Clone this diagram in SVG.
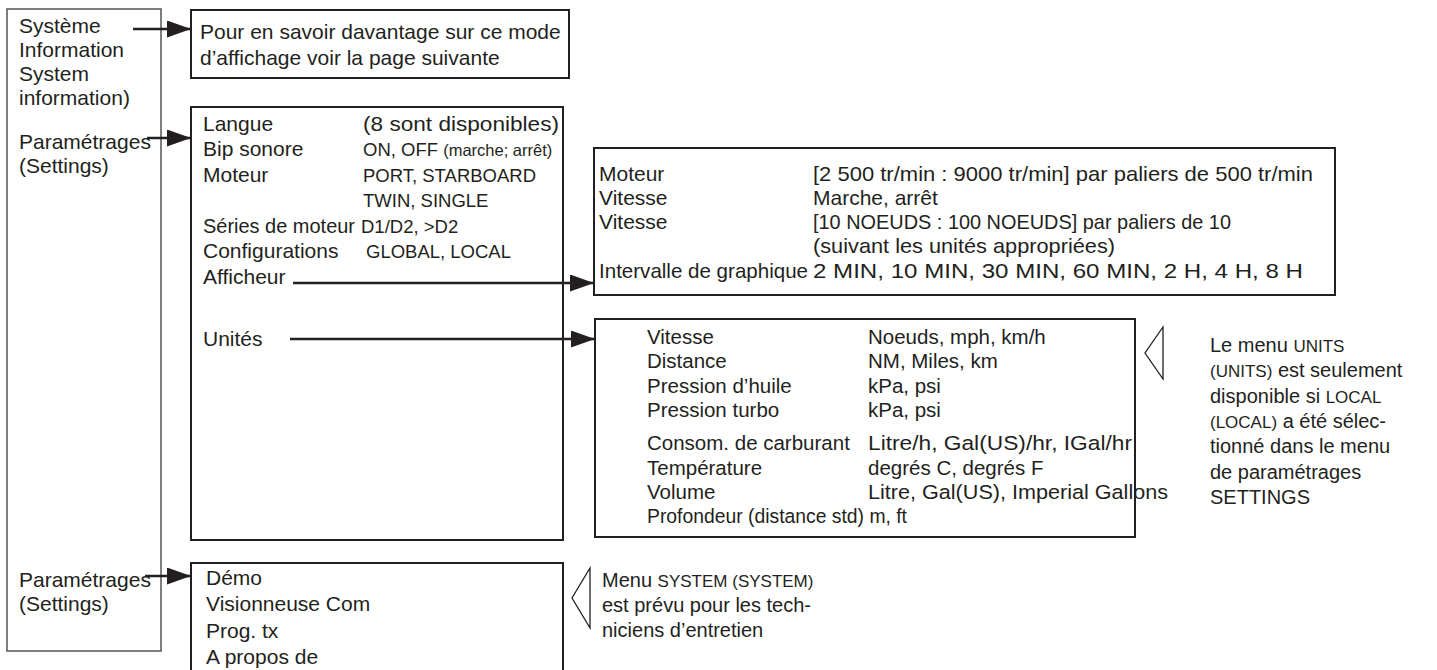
<svg xmlns="http://www.w3.org/2000/svg" width="1437" height="670" viewBox="0 0 1437 670">
<style>
text{font-family:"Liberation Sans",Arial,sans-serif;font-size:21px;fill:#231f20}
.box{fill:none;stroke:#231f20;stroke-width:2}
.lbox{fill:none;stroke:#555;stroke-width:1.5}
.sm{font-size:18.5px}
.xs{font-size:16.5px}
.u{font-size:20.5px}
.n{font-size:20px}
.c{font-size:17px}
.con{stroke:#231f20;stroke-width:2.5;fill:none}
.tri{fill:none;stroke:#231f20;stroke-width:1.3}
</style>
<defs>
<marker id="ah" viewBox="0 0 24 17" refX="24" refY="8.5" markerWidth="24" markerHeight="17" markerUnits="userSpaceOnUse" orient="auto"><path d="M0,0 L24,8.5 L0,17 z" fill="#231f20"/></marker>
</defs>
<rect width="1437" height="670" fill="#fff"/>
<g id="menu">
<rect class="lbox" x="7" y="9" width="154" height="642"/>
<text x="19" y="33">Système</text>
<text x="19" y="57">Information</text>
<text x="19" y="81">System</text>
<text x="19" y="105">information)</text>
<text x="19" y="149">Paramétrages</text>
<text x="19" y="173">(Settings)</text>
<text x="19" y="587">Paramétrages</text>
<text x="19" y="611">(Settings)</text>
</g>
<g id="info">
<rect class="box" x="191" y="10" width="378" height="68"/>
<text x="200" y="39">Pour en savoir davantage sur ce mode</text>
<text x="200" y="65">d’affichage voir la page suivante</text>
</g>
<g id="settings">
<rect class="box" x="191" y="107" width="372" height="433"/>
<text x="203" y="131">Langue</text><text x="363" y="131" textLength="196" lengthAdjust="spacingAndGlyphs">(8 sont disponibles)</text>
<text x="203" y="156">Bip sonore</text><text x="363" y="156" class="sm">ON, OFF <tspan class="xs">(marche; arrêt)</tspan></text>
<text x="203" y="182">Moteur</text><text x="363" y="182" class="sm">PORT, STARBOARD</text>
<text x="363" y="207" class="sm">TWIN, SINGLE</text>
<text x="203" y="233" textLength="152" lengthAdjust="spacingAndGlyphs">Séries de moteur</text><text x="361" y="233" class="sm">D1/D2, &gt;D2</text>
<text x="203" y="258">Configurations</text><text x="366" y="258" class="sm">GLOBAL, LOCAL</text>
<text x="203" y="284">Afficheur</text>
<text x="203" y="346">Unités</text>
</g>
<g id="display">
<rect class="box" x="594" y="148" width="741" height="147"/>
<text x="599" y="181">Moteur</text><text x="813" y="181" textLength="500" lengthAdjust="spacingAndGlyphs">[2 500 tr/min : 9000 tr/min] par paliers de 500 tr/min</text>
<text x="599" y="205">Vitesse</text><text x="813" y="205">Marche, arrêt</text>
<text x="599" y="229">Vitesse</text><text x="813" y="229" textLength="418" lengthAdjust="spacingAndGlyphs">[10 NOEUDS : 100 NOEUDS] par paliers de 10</text>
<text x="813" y="253" textLength="302" lengthAdjust="spacingAndGlyphs">(suivant les unités appropriées)</text>
<text x="599" y="278" textLength="209" lengthAdjust="spacingAndGlyphs">Intervalle de graphique</text><text x="813" y="278" textLength="490" lengthAdjust="spacingAndGlyphs">2 MIN, 10 MIN, 30 MIN, 60 MIN, 2 H, 4 H, 8 H</text>
</g>
<g id="units">
<rect class="box" x="595" y="319" width="540" height="218"/>
<text class="u" x="647" y="344">Vitesse</text><text class="u" x="868" y="344">Noeuds, mph, km/h</text>
<text class="u" x="647" y="368">Distance</text><text class="u" x="868" y="368">NM, Miles, km</text>
<text class="u" x="647" y="393">Pression d’huile</text><text class="u" x="868" y="393">kPa, psi</text>
<text class="u" x="647" y="417">Pression turbo</text><text class="u" x="868" y="417">kPa, psi</text>
<text class="u" x="647" y="450">Consom. de carburant</text><text class="u" x="868" y="450" textLength="264" lengthAdjust="spacingAndGlyphs">Litre/h, Gal(US)/hr, IGal/hr</text>
<text class="u" x="647" y="475">Température</text><text class="u" x="868" y="475">degrés C, degrés F</text>
<text class="u" x="647" y="499">Volume</text><text class="u" x="868" y="499" textLength="300" lengthAdjust="spacingAndGlyphs">Litre, Gal(US), Imperial Gallons</text>
<text class="u" x="647" y="523" textLength="260" lengthAdjust="spacingAndGlyphs">Profondeur (distance std) m, ft</text>
</g>
<g id="units-note">
<polygon class="tri" points="1163,327 1145,353 1163,379"/>
<text class="n" x="1210" y="352">Le menu <tspan class="c">UNITS</tspan></text>
<text class="n" x="1210" y="377"><tspan class="c">(UNITS)</tspan> est seulement</text>
<text class="n" x="1210" y="403">disponible si <tspan class="c">LOCAL</tspan></text>
<text class="n" x="1210" y="428"><tspan class="c">(LOCAL)</tspan> a été sélec-</text>
<text class="n" x="1210" y="453">tionné dans le menu</text>
<text class="n" x="1210" y="479">de paramétrages</text>
<text class="n" x="1210" y="504">SETTINGS</text>
</g>
<g id="system">
<rect class="box" x="191" y="563" width="372" height="120"/>
<text x="206" y="585">Démo</text>
<text x="206" y="611">Visionneuse Com</text>
<text x="206" y="638">Prog. tx</text>
<text x="206" y="664">A propos de</text>
</g>
<g id="system-note">
<polygon class="tri" points="590,568 572,598 590,628"/>
<text class="n" x="602" y="587">Menu <tspan class="c">SYSTEM (SYSTEM)</tspan></text>
<text class="n" x="602" y="612">est prévu pour les tech-</text>
<text class="n" x="602" y="637">niciens d’entretien</text>
</g>
<g id="connectors">
<line class="con" x1="133" y1="29" x2="191" y2="29" marker-end="url(#ah)"/>
<line class="con" x1="147" y1="138" x2="191" y2="138" marker-end="url(#ah)"/>
<line class="con" x1="293" y1="283" x2="594" y2="283" marker-end="url(#ah)"/>
<line class="con" x1="290" y1="339" x2="595" y2="339" marker-end="url(#ah)"/>
<line class="con" x1="145" y1="576" x2="191" y2="576" marker-end="url(#ah)"/>
</g>
</svg>
